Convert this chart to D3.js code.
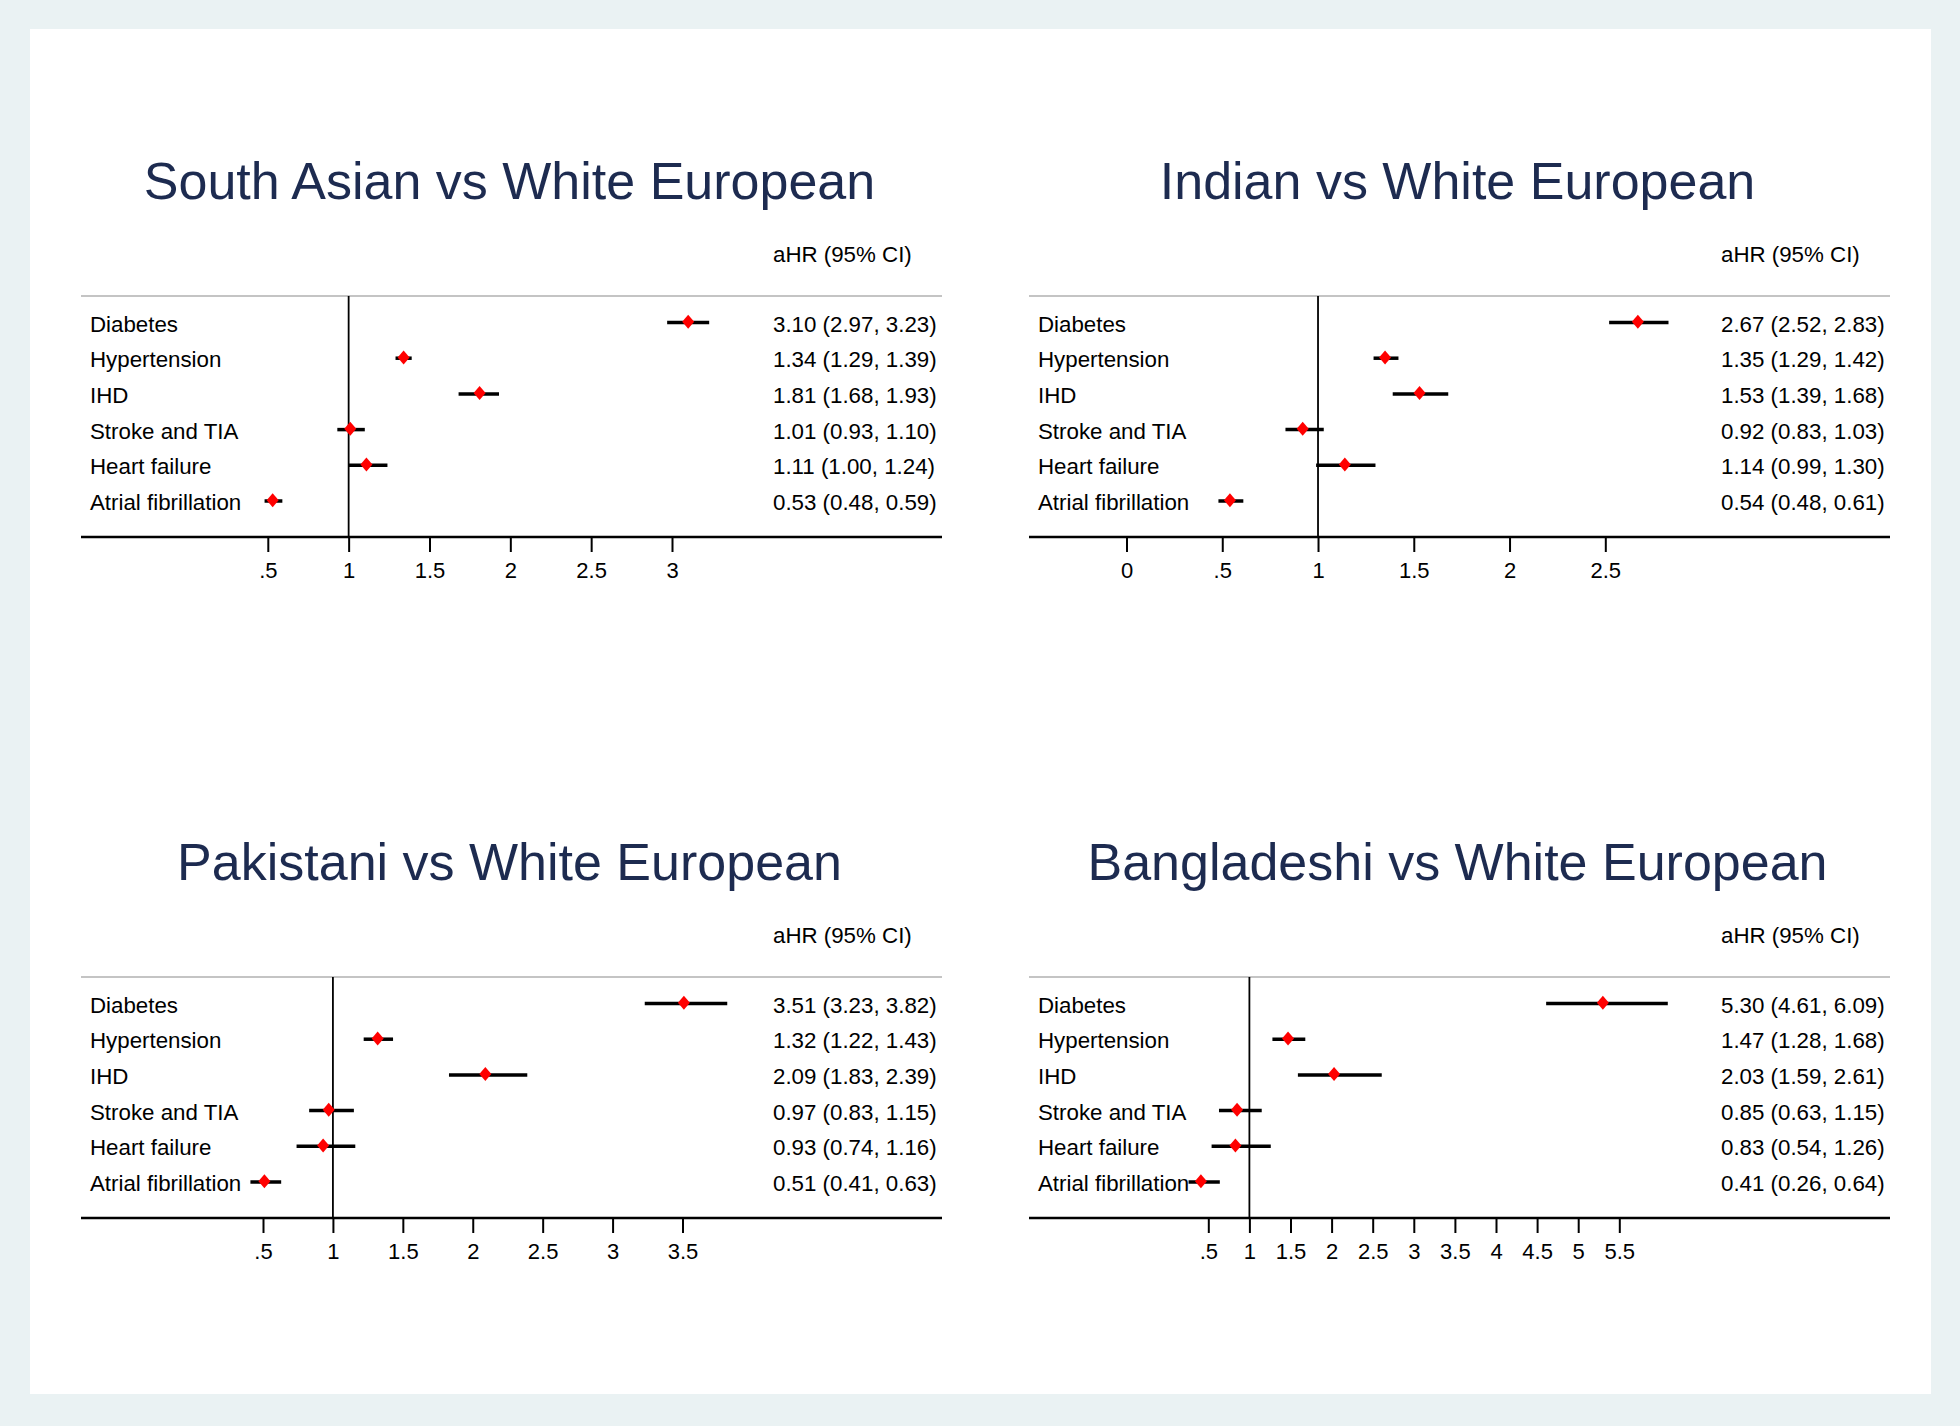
<!DOCTYPE html>
<html>
<head>
<meta charset="utf-8">
<script src="https://cdn.jsdelivr.net/npm/d3@7"></script>
<style>
  html, body { margin: 0; padding: 0; background: #eaf2f3; }
  svg { display: block; }
  text { font-family: "Liberation Sans", Arial, Helvetica, sans-serif; }
</style>
</head>
<body>
<svg id="chart" width="1960" height="1426"></svg>
<script>
// ---------------- DATA ----------------
const outcomes = ["Diabetes", "Hypertension", "IHD", "Stroke and TIA", "Heart failure", "Atrial fibrillation"];

const panelTitles = [
  "South Asian vs White European",
  "Indian vs White European",
  "Pakistani vs White European",
  "Bangladeshi vs White European"
];

const southAsianHR    = [3.10, 1.34, 1.81, 1.01, 1.11, 0.53];
const southAsianLower = [2.97, 1.29, 1.68, 0.93, 1.00, 0.48];
const southAsianUpper = [3.23, 1.39, 1.93, 1.10, 1.24, 0.59];

const indianHR    = [2.67, 1.35, 1.53, 0.92, 1.14, 0.54];
const indianLower = [2.52, 1.29, 1.39, 0.83, 0.99, 0.48];
const indianUpper = [2.83, 1.42, 1.68, 1.03, 1.30, 0.61];

const pakistaniHR    = [3.51, 1.32, 2.09, 0.97, 0.93, 0.51];
const pakistaniLower = [3.23, 1.22, 1.83, 0.83, 0.74, 0.41];
const pakistaniUpper = [3.82, 1.43, 2.39, 1.15, 1.16, 0.63];

const bangladeshiHR    = [5.30, 1.47, 2.03, 0.85, 0.83, 0.41];
const bangladeshiLower = [4.61, 1.28, 1.59, 0.63, 0.54, 0.26];
const bangladeshiUpper = [6.09, 1.68, 2.61, 1.15, 1.26, 0.64];

const southAsianTicks  = [0.5, 1, 1.5, 2, 2.5, 3];
const indianTicks      = [0, 0.5, 1, 1.5, 2, 2.5];
const pakistaniTicks   = [0.5, 1, 1.5, 2, 2.5, 3, 3.5];
const bangladeshiTicks = [0.5, 1, 1.5, 2, 2.5, 3, 3.5, 4, 4.5, 5, 5.5];

const headerLabel = "aHR (95% CI)";
const nullValue = 1;

// ---------------- LAYOUT (positions/styles, separate from data) ----------------
const panels = [
  { title: panelTitles[0], hr: southAsianHR,  lo: southAsianLower,  hi: southAsianUpper,  ticks: southAsianTicks,  left: 81,   top: 0,   range: [186.8, 591.0] },
  { title: panelTitles[1], hr: indianHR,      lo: indianLower,      hi: indianUpper,      ticks: indianTicks,      left: 1029, top: 0,   range: [97.5, 576.3] },
  { title: panelTitles[2], hr: pakistaniHR,   lo: pakistaniLower,   hi: pakistaniUpper,   ticks: pakistaniTicks,   left: 81,   top: 681, range: [182.0, 601.5] },
  { title: panelTitles[3], hr: bangladeshiHR, lo: bangladeshiLower, hi: bangladeshiUpper, ticks: bangladeshiTicks, left: 1029, top: 681, range: [179.3, 590.3] }
];

const panelWidth = 861;
const titleBaseline = 199;
const headerBaseline = 262;
const gridTop = 296;
const axisY = 537;
const firstRowY = 322.5;
const rowStep = 35.7;
const labelX = 9;
const valueX = 692;
const tickLen = 15;
const tickLabelBaseline = 578;

const svg = d3.select("#chart");

// white plot area
svg.append("rect")
  .attr("x", 30).attr("y", 29)
  .attr("width", 1901).attr("height", 1365)
  .attr("fill", "#ffffff");

const fmt = d3.format(".2f");
const tickFmt = v => v === 0 ? "0" : (v < 1 ? d3.format(".1f")(v).replace(/^0/, "") : d3.format("")(v));

panels.forEach(p => {
  const g = svg.append("g").attr("transform", `translate(${p.left},${p.top})`);

  const x = d3.scaleLinear()
    .domain([p.ticks[0], p.ticks[p.ticks.length - 1]])
    .range(p.range);

  const y = d3.scalePoint()
    .domain(outcomes)
    .range([firstRowY, firstRowY + rowStep * (outcomes.length - 1)]);

  // Title
  g.append("text")
    .attr("x", panelWidth / 2 - 2).attr("y", titleBaseline)
    .attr("text-anchor", "middle")
    .attr("font-size", 52)
    .attr("fill", "#1d2b50")
    .text(p.title);

  // Header
  g.append("text")
    .attr("x", valueX).attr("y", headerBaseline)
    .attr("font-size", 22.3)
    .attr("fill", "#000")
    .text(headerLabel);

  // top gray rule
  g.append("line")
    .attr("x1", 0).attr("x2", panelWidth)
    .attr("y1", gridTop).attr("y2", gridTop)
    .attr("stroke", "#c4c4c4").attr("stroke-width", 2.2);

  // null reference line
  g.append("line")
    .attr("x1", x(nullValue)).attr("x2", x(nullValue))
    .attr("y1", gridTop).attr("y2", axisY)
    .attr("stroke", "#000").attr("stroke-width", 1.8);

  // x axis
  const axis = d3.axisBottom(x)
    .tickValues(p.ticks)
    .tickSize(tickLen)
    .tickSizeOuter(0)
    .tickFormat(tickFmt);

  const ax = g.append("g")
    .attr("transform", `translate(0,${axisY})`)
    .call(axis);
  ax.select(".domain").remove();
  ax.selectAll(".tick line").attr("stroke", "#000").attr("stroke-width", 2);
  ax.selectAll(".tick text")
    .attr("y", tickLabelBaseline - axisY)
    .attr("dy", 0)
    .attr("font-size", 22)
    .attr("font-family", "'Liberation Sans', Arial, sans-serif")
    .attr("fill", "#000");

  // bottom axis rule across full panel width
  g.append("line")
    .attr("x1", 0).attr("x2", panelWidth)
    .attr("y1", axisY).attr("y2", axisY)
    .attr("stroke", "#000").attr("stroke-width", 2.4);

  const rows = outcomes.map((o, i) => ({ name: o, hr: p.hr[i], lo: p.lo[i], hi: p.hi[i] }));

  // row labels
  g.selectAll("text.lab").data(rows).enter().append("text")
    .attr("class", "lab")
    .attr("x", labelX)
    .attr("y", d => y(d.name) + 9)
    .attr("font-size", 22.3)
    .attr("fill", "#000")
    .text(d => d.name);

  // value labels
  g.selectAll("text.val").data(rows).enter().append("text")
    .attr("class", "val")
    .attr("x", valueX)
    .attr("y", d => y(d.name) + 9)
    .attr("font-size", 22.3)
    .attr("fill", "#000")
    .text(d => `${fmt(d.hr)} (${fmt(d.lo)}, ${fmt(d.hi)})`);

  // CI bars
  g.selectAll("line.ci").data(rows).enter().append("line")
    .attr("class", "ci")
    .attr("x1", d => x(d.lo)).attr("x2", d => x(d.hi))
    .attr("y1", d => y(d.name)).attr("y2", d => y(d.name))
    .attr("stroke", "#000").attr("stroke-width", 3.5);

  // point estimates (red diamonds)
  g.selectAll("path.pt").data(rows).enter().append("path")
    .attr("class", "pt")
    .attr("transform", d => `translate(${x(d.hr)},${y(d.name) - 0.8})`)
    .attr("d", "M0,-7L6,0L0,7L-6,0Z")
    .attr("fill", "#ff0000");
});
</script>
</body>
</html>
